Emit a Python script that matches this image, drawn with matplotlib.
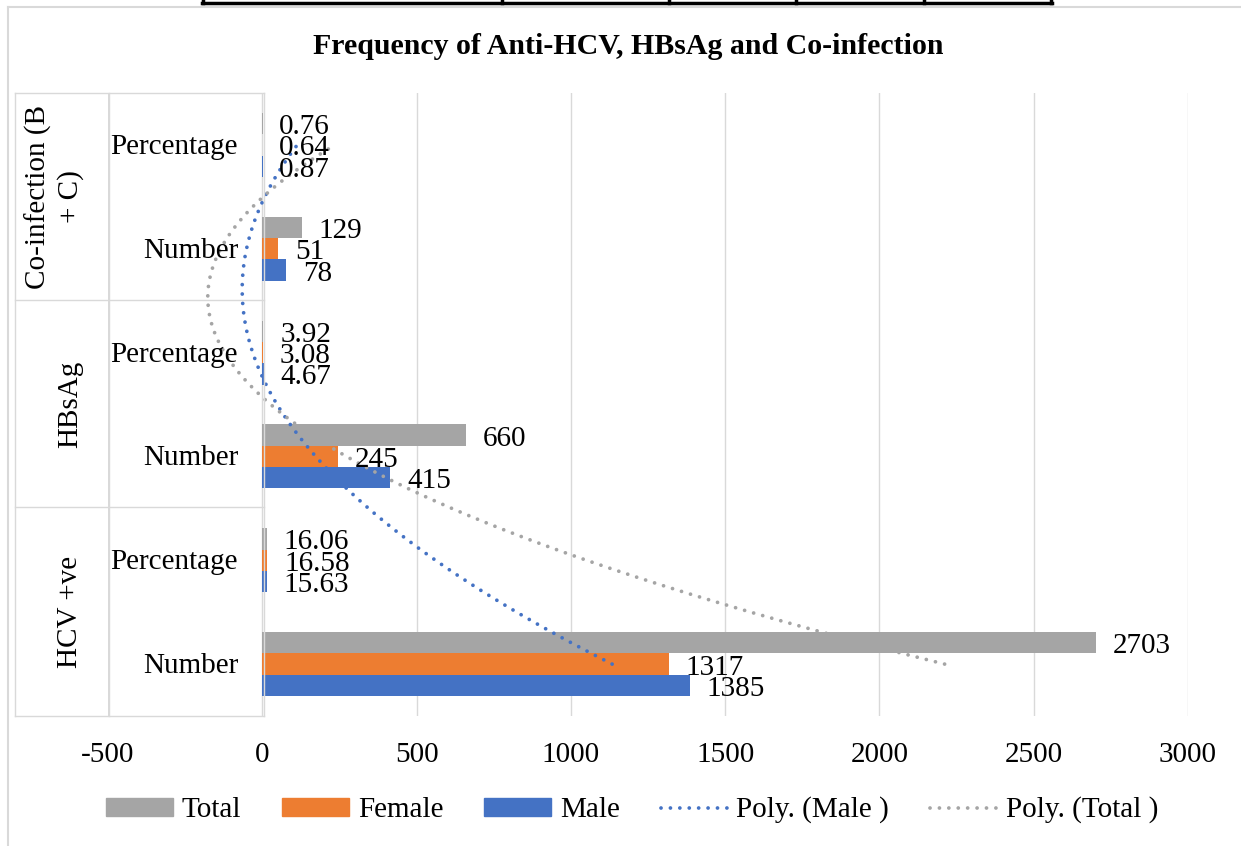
import matplotlib
matplotlib.use("Agg")
import matplotlib.pyplot as plt
import matplotlib.transforms as mtransforms
from matplotlib.lines import Line2D
from matplotlib.patches import Patch
import numpy as np

plt.rcParams['font.family'] = ['Liberation Serif', 'DejaVu Serif']
plt.rcParams['axes.unicode_minus'] = False

# categories, bottom to top
groups = ["HCV +ve", "HBsAg", "Co-infection (B\n+ C)"]
sub_labels = ["Number", "Percentage"] * 3
male = [1385, 15.63, 415, 4.67, 78, 0.87]
female = [1317, 16.58, 245, 3.08, 51, 0.64]
total = [2703, 16.06, 660, 3.92, 129, 0.76]

c_blue = "#4472C4"
c_orange = "#ED7D31"
c_gray = "#A5A5A5"
c_grid = "#D9D9D9"
dots = (0, (0.01, 2.5))

W, H = 1241, 846
fig = plt.figure(figsize=(W / 100, H / 100), dpi=100)

def fx(px):
    return px / W

def fy(py):
    return 1 - py / H

ax = fig.add_axes([fx(108), fy(716), fx(1188) - fx(108), fy(93) - fy(716)])

pos = np.arange(1, len(male) + 1)
h = 0.205
ax.barh(pos - h, male, height=h, color=c_blue, zorder=2)
ax.barh(pos, female, height=h, color=c_orange, zorder=2)
ax.barh(pos + h, total, height=h, color=c_gray, zorder=2)

# polynomial (order 2) trendlines, like Excel
t = np.linspace(1, len(male), 300)
for vals, col in [(male, c_blue), (total, c_gray)]:
    coef = np.polyfit(pos, vals, 2)
    ax.plot(np.polyval(coef, t), t, color=col, lw=2.7,
            linestyle=dots, dash_capstyle='round', zorder=3)

# data labels
for vals, off in [(male, -h), (female, 0), (total, h)]:
    for p, v in zip(pos, vals):
        ax.annotate(f"{v:g}", (v, p + off), xytext=(12, -2.5),
                    textcoords='offset points', va='center', ha='left',
                    fontsize=21, zorder=4)

ax.set_xlim(-500, 3000)
ax.set_ylim(0.5, len(male) + 0.5)
ax.set_xticks(np.arange(-500, 3001, 500))
ax.set_yticks([])
ax.tick_params(axis='x', length=0, labelsize=21, pad=19)
ax.grid(axis='x', color=c_grid, lw=1.0)
ax.set_axisbelow(True)
for s in ax.spines.values():
    s.set_visible(False)

# multi-level category label box
blend = mtransforms.blended_transform_factory(fig.transFigure, ax.transData)
for yy in [93, 300, 507, 716]:
    fig.add_artist(Line2D([fx(15), fx(264)], [fy(yy), fy(yy)], color=c_grid, lw=1.0))
for xx in [15, 109, 264]:
    fig.add_artist(Line2D([fx(xx), fx(xx)], [fy(93), fy(716)], color=c_grid, lw=1.0))

for p, lab in zip(pos, sub_labels):
    ax.text(fx(238), p - 0.02, lab, transform=blend, ha='right', va='center', fontsize=21)
for i, g in enumerate(groups):
    xg = 54 if "\n" in g else 70
    ax.text(fx(xg), 2 * i + 1.5, g, transform=blend, ha='center', va='center',
            rotation=90, fontsize=21, multialignment='center', linespacing=1.25)

fig.text(fx(628), fy(46), "Frequency of Anti-HCV, HBsAg and Co-infection",
         ha='center', va='center', fontsize=21.5, fontweight='bold')

# chart border and table fragment above
fig.add_artist(Line2D([fx(8), fx(W)], [fy(7), fy(7)], color=c_grid, lw=1.5))
fig.add_artist(Line2D([fx(8), fx(8)], [fy(7), fy(H)], color=c_grid, lw=1.5))
fig.add_artist(Line2D([fx(202), fx(1052)], [fy(3), fy(3)], color='black', lw=2.5))
for xx in [203, 502, 669, 796, 924, 1051]:
    fig.add_artist(Line2D([fx(xx), fx(xx)], [fy(0), fy(3)], color='black', lw=2.5))

handles = [Patch(color=c_gray), Patch(color=c_orange), Patch(color=c_blue),
           Line2D([], [], color=c_blue, lw=2.7, linestyle=dots, dash_capstyle='round'),
           Line2D([], [], color=c_gray, lw=2.7, linestyle=dots, dash_capstyle='round')]
labels = ["Total", "Female", "Male", "Poly. (Male )", "Poly. (Total )"]
fig.legend(handles, labels, loc='center', bbox_to_anchor=(fx(632), fy(810)),
           ncol=5, frameon=False, fontsize=21, handlelength=2.3,
           handletextpad=0.3, columnspacing=1.4, handleheight=0.55)

fig.savefig("out.png", dpi=100)
